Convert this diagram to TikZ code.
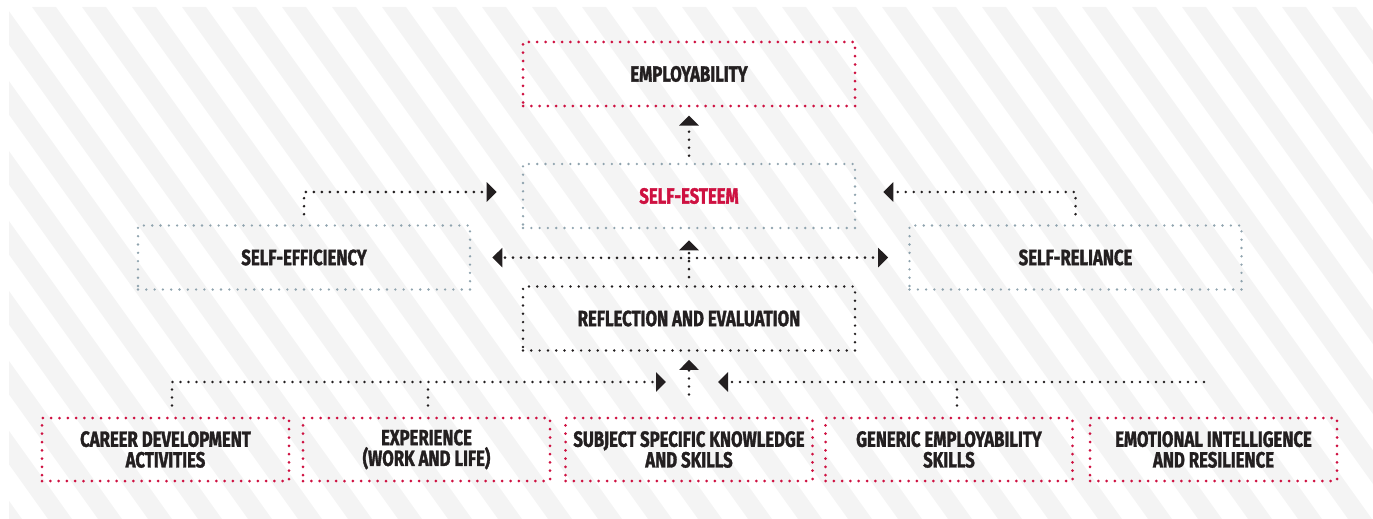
\documentclass[tikz,border=0pt]{standalone}
\usepackage{fontspec}
\setmainfont{Fira Sans}[FakeStretch=0.76, BoldFeatures={FakeBold=1.4}]
\usetikzlibrary{arrows.meta}

\definecolor{ink}{HTML}{231F20}
\definecolor{crimson}{HTML}{CE1141}
\definecolor{slate}{HTML}{8FA3AE}
\definecolor{stripe}{HTML}{F4F4F4}

\begin{document}
\begin{tikzpicture}[x=1pt, y=-1pt,
    every node/.style={font=\fontsize{22}{20.7}\selectfont\bfseries, text=ink, align=center, inner sep=0pt},
    box/.style={minimum width=332pt, minimum height=64pt, line width=3pt, line cap=round, dash pattern=on 0pt off 8.3pt},
    outcome/.style={box, draw=crimson},
    trait/.style={box, draw=slate, line width=2.6pt},
    stage/.style={box, draw=ink, line width=2.7pt},
    source/.style={box, draw=crimson, minimum width=247pt, minimum height=63pt},
    plain/.style={ink, line width=2.9pt, line cap=round, dash pattern=on 0pt off 8pt},
    link/.style={plain, -{Triangle[width=19pt, length=10pt]}}
  ]
		\useasboundingbox (0,0) rectangle (1373,519);

		% Striped backdrop
		\begin{scope}
			\clip (9,7) rectangle (1373,519);
			\foreach \k in {-9,...,27}
				\fill[stripe] (32+50*\k,7) -- (56+50*\k,7) -- (422+50*\k,519) -- (398+50*\k,519) -- cycle;
		\end{scope}

		% Central column
		\node[outcome] (emp) at (689,74) {EMPLOYABILITY};
		\node[trait, text=crimson] (est) at (689,196) {SELF-ESTEEM};
		\node[stage] (refl) at (689,318.5) {REFLECTION AND EVALUATION};

		% Side traits
		\node[trait] (eff) at (304,257.5) {SELF-EFFICIENCY};
		\node[trait] (rel) at (1075.5,257.5) {SELF-RELIANCE};

		% Bottom row
		\node[source] (car) at (165.5,449.5) {CAREER DEVELOPMENT\\ACTIVITIES};
		\node[source] (exp) at (426.5,449.5) {EXPERIENCE\\(WORK AND LIFE)};
		\node[source] (sub) at (689,449.5) {SUBJECT SPECIFIC KNOWLEDGE\\AND SKILLS};
		\node[source] (gen) at (949,449.5) {GENERIC EMPLOYABILITY\\SKILLS};
		\node[source] (emo) at (1213.5,449.5) {EMOTIONAL INTELLIGENCE\\AND RESILIENCE};

		% Upward chain
		\draw[link, shorten <=7pt, shorten >=8pt] (est) -- (emp);
		\draw[link, shorten <=8pt, shorten >=11pt] (refl) -- (est);
		\draw[link, shorten <=22pt, shorten >=8pt] (sub) -- (refl);

		% Traits feeding self-esteem
		\draw[link, shorten <=10pt, shorten >=25pt] (eff.north) |- ([yshift=4pt]est.west);
		\draw[link, shorten <=10pt, shorten >=27pt] (rel.north) |- ([yshift=4pt]est.east);

		% Branch out to the traits
		\coordinate (hub) at (689,258);
		\draw[link, shorten >=21pt] (hub) -- (eff.east);
		\draw[link, shorten >=20pt] (hub) -- (rel.west);

		% Collector line over the bottom row
		\coordinate (feed) at (689,382);
		\coordinate (tail) at (1204,382);
		\draw[link, shorten <=11pt, shorten >=23pt] ([xshift=6.5pt]car.north) |- (feed);
		\draw[plain, shorten <=11pt] ([xshift=1.5pt]exp.north) -- ([xshift=1.5pt]exp.north |- feed);
		\draw[plain, shorten <=11pt] ([xshift=8pt]gen.north) -- ([xshift=8pt]gen.north |- feed);
		\draw[link, shorten >=29pt] (tail) -- (feed);
	\end{tikzpicture}
\end{document}
